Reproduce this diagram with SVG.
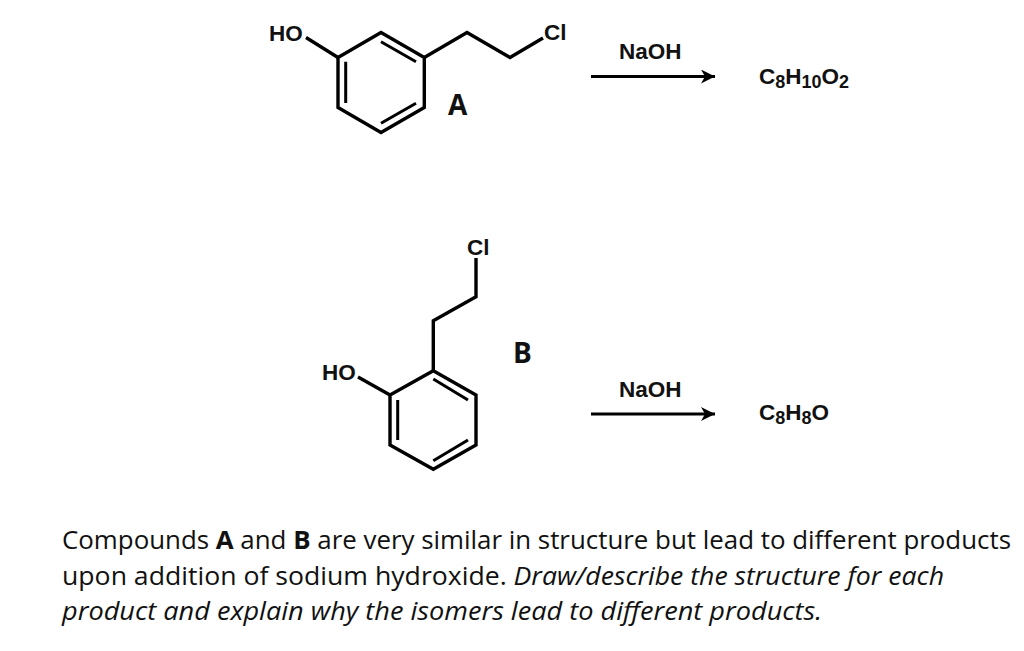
<svg xmlns="http://www.w3.org/2000/svg" width="1024" height="651" viewBox="0 0 1024 651">
<style>
.b{fill:none;stroke:#000;stroke-width:3.4;stroke-linejoin:miter;stroke-linecap:butt}
.d{fill:none;stroke:#000;stroke-width:3}
.a{font-family:"Liberation Sans",Arial,sans-serif;font-weight:700;font-size:22.5px;fill:#111}
.l{font-family:"Open Sans",sans-serif;font-weight:700;font-size:28px;fill:#111}
.t{font-family:"Open Sans",sans-serif;font-size:25.5px;fill:#111}
.s{font-size:18px}
</style>
<defs><marker id="h" markerUnits="userSpaceOnUse" markerWidth="16" markerHeight="14" refX="14" refY="7" orient="auto"><path d="M0 0L14 7L0 14L4 7Z" fill="#000"/></marker></defs>
<rect width="1024" height="651" fill="#fff"/>
<g id="compound-a">
<path class="b" d="M381 32.5L424.3 57.5V107.5L381 132.5L338 107.5V57.5Z"/>
<path class="d" d="M381 41.7L416 61.7M345.7 61.7V103M381 123.3L416 103.3"/>
<path class="b" d="M306 37.5L338 57.5M424.3 57.5L467 32.5L510 57.5L543 38"/>
<text class="a" x="269" y="41">HO</text>
<text class="a" x="544" y="40">Cl</text>
<text class="l" x="448" y="115">A</text>
</g>
<g id="compound-b">
<path class="b" d="M433.3 370.7L476 395V445L433.3 469.3L390 445V395Z"/>
<path class="d" d="M433.3 379L468 400M397.7 400V440M433.3 460.7L468 440"/>
<path class="b" d="M358 377L390 395M433.3 370.7V320.7L476 296.7V258"/>
<text class="a" x="322" y="380">HO</text>
<text class="a" x="467" y="255">Cl</text>
<text class="l" x="513" y="363">B</text>
</g>
<g id="connectors">
<path d="M591 76.5H715" stroke="#000" stroke-width="3.2" marker-end="url(#h)" fill="none"/>
<path d="M591 414H715" stroke="#000" stroke-width="3.2" marker-end="url(#h)" fill="none"/>
</g>
<g id="reaction-a">
<text class="a" x="619" y="59">NaOH</text>
<text class="a" x="759" y="84">C<tspan class="s" dy="4">8</tspan><tspan dy="-4">H</tspan><tspan class="s" dy="4">10</tspan><tspan dy="-4">O</tspan><tspan class="s" dy="4">2</tspan></text>
</g>
<g id="reaction-b">
<text class="a" x="619" y="397">NaOH</text>
<text class="a" x="759" y="420">C<tspan class="s" dy="4">8</tspan><tspan dy="-4">H</tspan><tspan class="s" dy="4">8</tspan><tspan dy="-4">O</tspan></text>
</g>
<g id="caption">
<text class="t" x="62" y="549" textLength="949" lengthAdjust="spacingAndGlyphs">Compounds <tspan font-weight="700">A</tspan> and <tspan font-weight="700">B</tspan> are very similar in structure but lead to different products</text>
<text class="t" x="62" y="585" textLength="882" lengthAdjust="spacingAndGlyphs">upon addition of sodium hydroxide. <tspan font-style="italic">Draw/describe the structure for each</tspan></text>
<text class="t" x="62" y="620" textLength="760" lengthAdjust="spacingAndGlyphs" font-style="italic">product and explain why the isomers lead to different products.</text>
</g>
</svg>
